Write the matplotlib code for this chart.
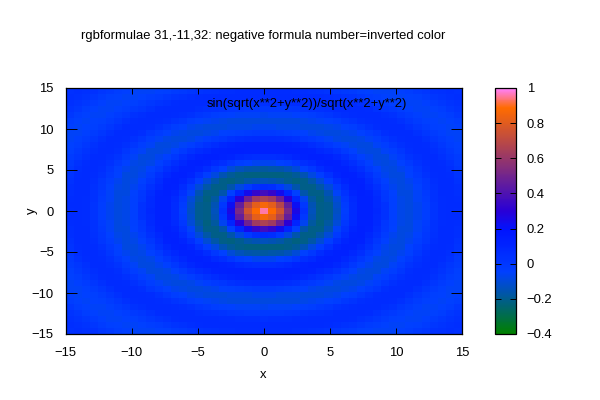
import numpy as np
import matplotlib
matplotlib.use("Agg")
import matplotlib.pyplot as plt
from matplotlib.colors import ListedColormap

plt.rcParams['font.family'] = ['Liberation Sans', 'DejaVu Sans']
plt.rcParams['font.size'] = 9.4

title = "rgbformulae 31,-11,32: negative formula number=inverted color"
key_label = "sin(sqrt(x**2+y**2))/sqrt(x**2+y**2)"
xy_ticks = [-15, -10, -5, 0, 5, 10, 15]
cb_ticks = [-0.4, -0.2, 0, 0.2, 0.4, 0.6, 0.8, 1]
cb_labels = ["\u22120.4", "\u22120.2", "0", "0.2", "0.4", "0.6", "0.8", "1"]

# cell values, one quadrant (the surface is mirrored)
# rows go from y=0 upward, columns from x=0 to the right
q00 = [.96,.88,.76,.52,.26,.03,-.14,-.21,-.20,-.13,-.03,.07,.12,.12,.09,.03,-.04,-.08,-.09,-.07,-.03,.02,.06,.07,.06]
q01 = [.86,.81,.68,.46,.22,0,-.15,-.21,-.20,-.12,-.02,.07,.12,.12,.08,.03,-.04,-.08,-.09,-.07,-.03,.02,.06,.07,.07]
q02 = [.66,.62,.49,.30,.10,-.07,-.18,-.22,-.18,-.10,0,.08,.12,.12,.08,.01,-.04,-.08,-.09,-.06,-.02,.03,.06,.07,.06]
q03 = [.37,.33,.24,.10,-.04,-.16,-.21,-.21,-.15,-.06,.03,.10,.13,.11,.06,0,-.05,-.09,-.09,-.06,-.01,.03,.07,.07,.05]
q04 = [.07,.05,-.01,-.09,-.16,-.21,-.21,-.17,-.10,-.01,.07,.12,.13,.09,.04,-.02,-.07,-.09,-.08,-.05,0,.04,.07,.07,.05]
q05 = [-.14,-.15,-.17,-.20,-.22,-.21,-.17,-.11,-.03,.05,.10,.13,.12,.07,.01,-.04,-.08,-.09,-.07,-.03,.01,.05,.07,.07,.03]
q06 = [-.22,-.22,-.22,-.21,-.19,-.15,-.09,-.03,.04,.10,.13,.12,.09,.04,-.02,-.07,-.09,-.09,-.05,-.01,.03,.06,.07,.06,.02]
q07 = [-.18,-.17,-.16,-.14,-.10,-.05,0,.06,.10,.12,.12,.09,.05,-.01,-.05,-.08,-.09,-.07,-.04,.01,.05,.07,.07,.05,.01]
q08 = [-.07,-.07,-.05,-.03,.01,.05,.08,.11,.13,.12,.09,.05,0,-.04,-.08,-.09,-.08,-.05,-.01,.03,.06,.07,.06,.03,-.01]
q09 = [.05,.05,.06,.08,.10,.11,.13,.13,.11,.09,.05,0,-.04,-.07,-.09,-.09,-.06,-.02,.02,.05,.07,.07,.04,.01,-.02]
q10 = [.12,.12,.12,.13,.13,.12,.11,.09,.07,.03,-.01,-.05,-.08,-.09,-.09,-.06,-.03,.01,.05,.07,.07,.05,.02,-.01,-.04]
q11 = [.12,.12,.12,.11,.10,.09,.06,.03,0,-.03,-.06,-.08,-.09,-.09,-.06,-.03,.01,.04,.06,.07,.06,.03,0,-.03,-.05]
q12 = [.07,.07,.06,.05,.03,.01,-.01,-.03,-.06,-.08,-.09,-.09,-.08,-.06,-.03,.01,.04,.06,.07,.07,.04,.01,-.02,-.04,-.06]
q13 = [-.01,-.01,-.02,-.03,-.04,-.05,-.07,-.08,-.09,-.09,-.08,-.07,-.05,-.02,.01,.05,.07,.07,.07,.04,.01,-.02,-.04,-.06,-.06]
q14 = [-.07,-.07,-.08,-.08,-.08,-.09,-.09,-.09,-.08,-.07,-.05,-.03,0,.03,.06,.07,.07,.07,.04,.01,-.02,-.04,-.05,-.06,-.04]
q15 = [-.09,-.09,-.09,-.09,-.09,-.08,-.07,-.06,-.05,-.03,0,.02,.05,.06,.07,.07,.06,.04,.01,-.02,-.04,-.05,-.06,-.05,-.03]
q16 = [-.07,-.06,-.06,-.06,-.05,-.04,-.03,-.01,.01,.03,.05,.06,.07,.07,.07,.05,.03,0,-.02,-.04,-.06,-.06,-.05,-.03,0]
q17 = [-.01,-.01,-.01,0,.01,.02,.03,.04,.05,.07,.07,.07,.07,.06,.03,.01,-.01,-.03,-.05,-.06,-.06,-.05,-.03,0,.02]
q18 = [.04,.05,.05,.05,.06,.06,.07,.07,.07,.07,.07,.06,.04,.02,0,-.02,-.04,-.05,-.06,-.06,-.04,-.02,0,.02,.04]
q19 = [.07,.07,.07,.07,.07,.07,.07,.07,.06,.05,.03,.02,0,-.02,-.03,-.05,-.06,-.06,-.05,-.04,-.02,.01,.02,.04,.05]
q20 = [.06,.06,.06,.06,.05,.05,.04,.03,.02,.01,-.01,-.02,-.04,-.05,-.06,-.06,-.06,-.04,-.03,-.01,.01,.03,.04,.05,.04]
quadrant = np.array([q00, q01, q02, q03, q04, q05, q06, q07, q08, q09, q10,
                     q11, q12, q13, q14, q15, q16, q17, q18, q19, q20])


def gnuplot_palette(n=256):
    # rgbformulae 31,-11,32
    g = np.linspace(0, 1, n)
    r = np.clip(2 * g - 0.84, 0, 1)
    gr = np.abs((1 - g) - 0.5)
    b = np.where(g < 0.25, 4 * g,
                 np.where(g < 0.42, 1,
                          np.where(g < 0.92, -2 * g + 1.84, g / 0.08 - 11.5)))
    return ListedColormap(np.column_stack([r, gr, np.clip(b, 0, 1)]))


half = np.vstack([np.flipud(quadrant[1:]), quadrant])
z = np.hstack([np.fliplr(half[:, 1:]), half])
xedges = np.linspace(-15, 15, z.shape[1] + 1)
yedges = np.linspace(-15, 15, z.shape[0] + 1)

W, H = 600, 400
fig = plt.figure(figsize=(6, 4), dpi=100)
ax = fig.add_axes([65.5 / W, 1 - 334 / H, 396.5 / W, 246 / H])
cax = fig.add_axes([495 / W, 1 - 334 / H, 20.5 / W, 246 / H])

mesh = ax.pcolormesh(xedges, yedges, z, cmap=gnuplot_palette(), vmin=-0.4, vmax=1,
                     shading='flat', linewidth=0, antialiased=False, rasterized=True)
ax.set_xlim(-15, 15)
ax.set_ylim(-15, 15)
ax.set_xticks(xy_ticks)
ax.set_yticks(xy_ticks)
ax.set_xticklabels([str(t).replace('-', '\u2212') for t in xy_ticks])
ax.set_yticklabels([str(t).replace('-', '\u2212') for t in xy_ticks])
ax.tick_params(axis='x', direction='in', top=True, length=4.5, width=0.7, pad=9.5, color='black')
ax.tick_params(axis='y', direction='in', right=True, length=8, width=0.7, pad=8.5, color='black')
for s in ax.spines.values():
    s.set_linewidth(0.9)

cb = fig.colorbar(mesh, cax=cax)
cb.set_ticks(cb_ticks)
cb.set_ticklabels(cb_labels)
cax.tick_params(axis='y', direction='in', left=True, right=True, length=4.5, width=0.7, pad=8)
cb.minorticks_off()
cb.outline.set_linewidth(0.9)

fig.text(263 / W, 1 - 36.5 / H, title, ha='center', va='center')
fig.text(307 / W, 1 - 103.5 / H, key_label, ha='center', va='center')
fig.text(263 / W, 1 - 374.5 / H, "x", ha='center', va='center')
fig.text(31.5 / W, 1 - 211 / H, "y", rotation=90, ha='center', va='center')

fig.savefig("out.png", dpi=100)
